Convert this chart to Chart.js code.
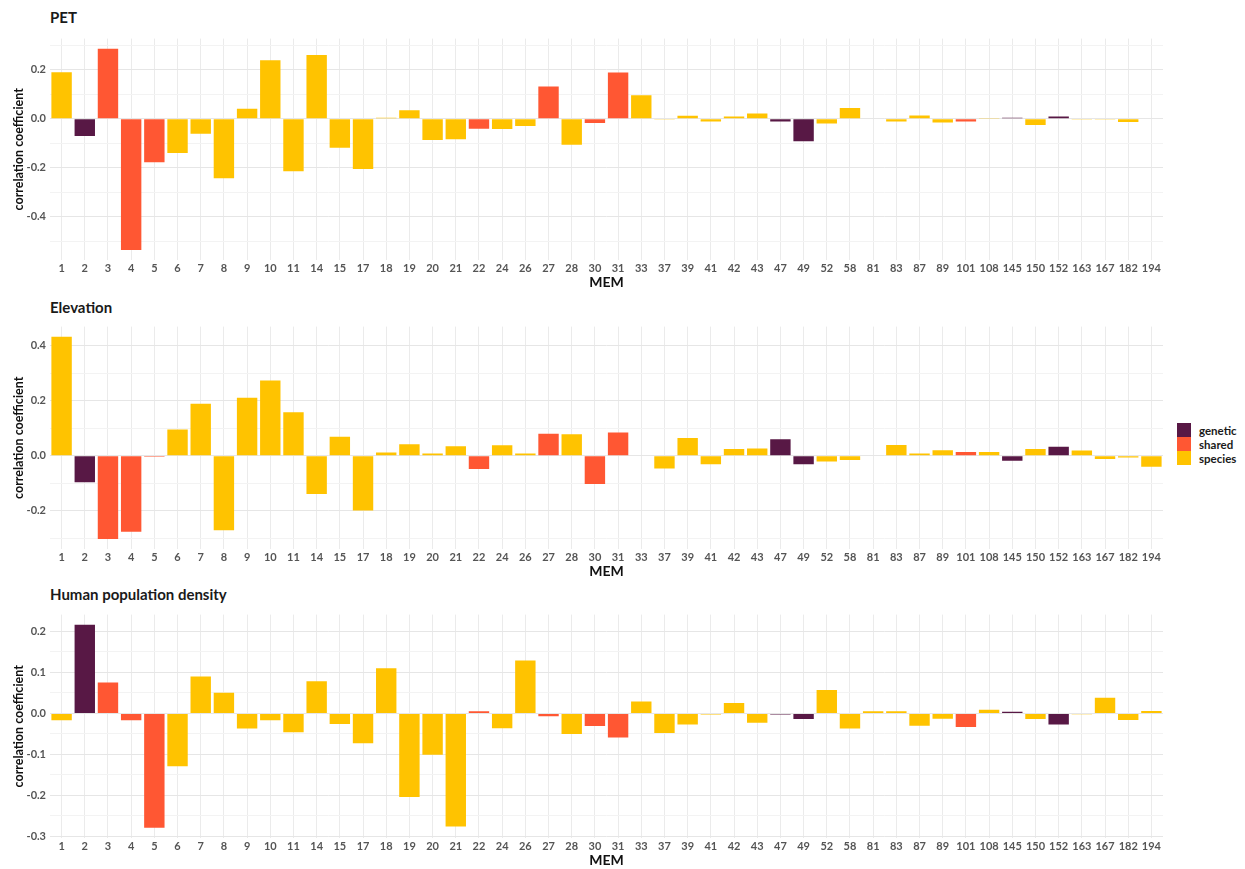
<!DOCTYPE html>
<html>
<head>
<meta charset="utf-8">
<script src="https://cdn.jsdelivr.net/npm/chart.js@4"></script>
<style>
  body { margin: 0; background: #fff; font-family: Lato, sans-serif; }
  #wrap { position: relative; width: 1245px; height: 869px; overflow: hidden; }
  .panel { position: absolute; left: 0; width: 1170px; }
  .ptitle { position: absolute; left: 50px; font: bold 15px Lato, sans-serif; line-height: 15px; color: #1a1a1a; }
  #legend { position: absolute; left: 1177px; top: 423px; }
  .lrow { height: 14px; display: flex; align-items: center; }
  .lkey { width: 14px; height: 14px; margin-right: 8px; }
  .ltxt { font: bold 11.5px Lato, sans-serif; color: #1a1a1a; }
</style>
</head>
<body>
<div id="wrap">
  <div class="ptitle" style="top:10px">PET</div>
  <div class="ptitle" style="top:300px">Elevation</div>
  <div class="ptitle" style="top:587px">Human population density</div>
  <div class="panel" style="top:28px;height:263px"><canvas id="cPet" width="1170" height="263"></canvas></div>
  <div class="panel" style="top:316px;height:264px"><canvas id="cElev" width="1170" height="264"></canvas></div>
  <div class="panel" style="top:604px;height:265px"><canvas id="cHum" width="1170" height="265"></canvas></div>
  <div id="legend"></div>
</div>
<script>
// MEM axes, shared by the three panels
var memLabels = ['1','2','3','4','5','6','7','8','9','10','11','14','15','17','18','19','20','21','22','24',
  '26','27','28','30','31','33','37','39','41','42','43','47','49','52','58','81','83','87','89','101',
  '108','145','150','152','163','167','182','194'];

var memGroups = ['species','genetic','shared','shared','shared','species','species','species','species','species',
  'species','species','species','species','species','species','species','species','shared','species',
  'species','shared','species','shared','shared','species','species','species','species','species',
  'species','genetic','genetic','species','species','species','species','species','species','shared',
  'species','genetic','species','genetic','species','species','species','species'];

var petValues = [0.19, -0.071, 0.286, -0.536, -0.178, -0.14, -0.061, -0.243, 0.041, 0.239,
  -0.215, 0.26, -0.119, -0.205, 0.004, 0.034, -0.087, -0.084, -0.041, -0.042,
  -0.03, 0.131, -0.106, -0.018, 0.189, 0.096, -0.003, 0.012, -0.011, 0.009,
  0.021, -0.011, -0.092, -0.02, 0.044, 0.002, -0.011, 0.013, -0.016, -0.011,
  0.003, 0.004, -0.026, 0.009, -0.001, -0.003, -0.013, 0.002];

var elevValues = [0.433, -0.096, -0.302, -0.276, -0.003, 0.096, 0.189, -0.271, 0.211, 0.274,
  0.158, -0.139, 0.069, -0.199, 0.012, 0.042, 0.008, 0.035, -0.048, 0.038,
  0.008, 0.08, 0.078, -0.102, 0.085, 0.002, -0.046, 0.065, -0.031, 0.025,
  0.027, 0.06, -0.031, -0.021, -0.015, 0.002, 0.039, 0.008, 0.02, 0.014,
  0.014, -0.018, 0.025, 0.033, 0.019, -0.012, -0.006, -0.04];

var humValues = [-0.017, 0.216, 0.075, -0.017, -0.279, -0.129, 0.09, 0.05, -0.037, -0.017,
  -0.046, 0.078, -0.026, -0.073, 0.11, -0.204, -0.101, -0.276, 0.005, -0.036,
  0.129, -0.007, -0.05, -0.031, -0.059, 0.029, -0.048, -0.027, -0.003, 0.025,
  -0.023, -0.003, -0.014, 0.057, -0.037, 0.005, 0.005, -0.03, -0.013, -0.033,
  0.009, 0.004, -0.014, -0.027, -0.002, 0.038, -0.016, 0.006];

var groupNames = ['genetic', 'shared', 'species'];
var groupColors = { genetic: '#581845', shared: '#FF5733', species: '#FFC300' };

function isMult(v, step) {
  var r = v / step;
  return Math.abs(r - Math.round(r)) < 1e-6;
}

function makeChart(id, values, major) {
  var minor = major / 2;
  var lo = Math.min.apply(null, values), hi = Math.max.apply(null, values);
  var pad = (hi - lo) * 0.05;

  return new Chart(document.getElementById(id), {
    type: 'bar',
    data: {
      labels: memLabels,
      datasets: [{
        data: values,
        backgroundColor: memGroups.map(function(g) { return groupColors[g]; }),
        borderWidth: 0,
        categoryPercentage: 1,
        barPercentage: 0.88
      }]
    },
    options: {
      responsive: false,
      animation: false,
      layout: { padding: { top: 4, right: 7, left: 0, bottom: 0 } },
      plugins: { legend: { display: false }, tooltip: { enabled: false } },
      scales: {
        x: {
          grid: { offset: false, color: '#ebebeb', drawTicks: false },
          border: { display: false },
          ticks: { autoSkip: false, maxRotation: 0, padding: 2, color: '#555',
                   font: { family: 'Lato', size: 11, weight: 'bold' } },
          title: { display: true, text: 'MEM', color: '#111', padding: { top: 0, bottom: 0 },
                   font: { family: 'Lato', size: 14, weight: 'bold' } },
          afterFit: function(s) { s.height = 31; }
        },
        y: {
          min: lo - pad,
          max: hi + pad,
          // gridlines only at whole multiples of the minor step
          afterBuildTicks: function(s) {
            var t = [];
            for (var k = Math.ceil(s.min / minor - 1e-6); k * minor <= s.max + 1e-9; k++) {
              t.push({ value: Math.round(k * minor * 1000) / 1000 });
            }
            s.ticks = t;
          },
          grid: {
            drawTicks: false,
            color: function(c) {
              var v = c.tick.value;
              if (isMult(v, major)) return '#e6e6e6';
              return '#f3f3f3';
            }
          },
          border: { display: false },
          ticks: {
            padding: 4,
            color: '#555',
            font: { family: 'Lato', size: 11, weight: 'bold' },
            callback: function(v) {
              if (!isMult(v, major)) return '';
              if (Math.abs(v) < 1e-9) return '0.0';
              return v.toFixed(1);
            }
          },
          title: { display: true, text: 'correlation coefficient', color: '#111',
                   padding: { top: 11, bottom: 0 },
                   font: { family: 'Lato', size: 12.5, weight: 'bold' } },
          afterFit: function(s) { s.width = 50; }
        }
      }
    }
  });
}

makeChart('cPet', petValues, 0.2);
makeChart('cElev', elevValues, 0.2);
makeChart('cHum', humValues, 0.1);

// legend for the three groups
var legend = document.getElementById('legend');
groupNames.forEach(function(g) {
  var row = document.createElement('div');
  row.className = 'lrow';
  row.innerHTML = '<div class="lkey" style="background:' + groupColors[g] + '"></div><span class="ltxt">' + g + '</span>';
  legend.appendChild(row);
});
</script>
</body>
</html>
